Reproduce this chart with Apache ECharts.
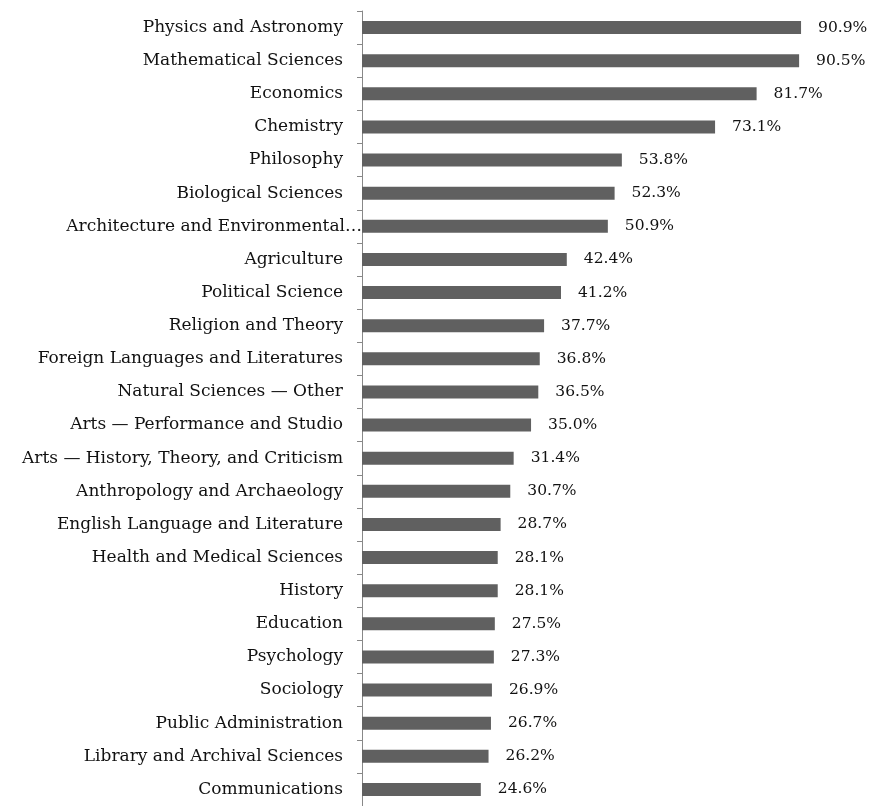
<!DOCTYPE html>
<html>
<head>
<meta charset="utf-8">
<script src="https://cdn.jsdelivr.net/npm/echarts@6/dist/echarts.min.js"></script>
<style>html,body{margin:0;padding:0;background:#fff;}#c{width:871px;height:806px;}</style>
</head>
<body>
<div id="c"></div>
<script>
const categories = [
  "Physics and Astronomy",
  "Mathematical Sciences",
  "Economics",
  "Chemistry",
  "Philosophy",
  "Biological Sciences",
  "Architecture and Environmental\u2026",
  "Agriculture",
  "Political Science",
  "Religion and Theory",
  "Foreign Languages and Literatures",
  "Natural Sciences \u2014 Other",
  "Arts \u2014 Performance and Studio",
  "Arts \u2014 History, Theory, and Criticism",
  "Anthropology and Archaeology",
  "English Language and Literature",
  "Health and Medical Sciences",
  "History",
  "Education",
  "Psychology",
  "Sociology",
  "Public Administration",
  "Library and Archival Sciences",
  "Communications"
];
const values = [90.9, 90.5, 81.7, 73.1, 53.8, 52.3, 50.9, 42.4, 41.2, 37.7, 36.8, 36.5, 35.0, 31.4, 30.7, 28.7, 28.1, 28.1, 27.5, 27.3, 26.9, 26.7, 26.2, 24.6];

const FONT = "DejaVu Serif";
const chart = echarts.init(document.getElementById('c'));
chart.setOption({
  animation: false,
  grid: { left: 362, right: 26, top: 11, height: 798, containLabel: false },
  xAxis: {
    type: 'value', min: 0, max: 100, show: false
  },
  yAxis: {
    type: 'category', data: categories, inverse: true,
    axisLine: { show: true, lineStyle: { color: '#888', width: 1 } },
    axisTick: { show: true, length: 5, lineStyle: { color: '#888' } },
    axisLabel: {
      margin: 0,
      formatter: function (v) {
        return v.indexOf('\u2026') >= 0 ? '{n|' + v + '}' : '{n|' + v + '}{s|}';
      },
      rich: {
        n: { fontFamily: FONT, fontSize: 17, color: '#111' },
        s: { width: 19 }
      }
    },
    splitLine: { show: false }
  },
  series: [{
    type: 'bar', data: values, barWidth: 13,
    itemStyle: { color: '#606060' },
    label: {
      show: true, position: 'right', distance: 17,
      fontFamily: FONT, fontSize: 15.5, color: '#111',
      formatter: function (p) { return p.value.toFixed(1) + '%'; }
    }
  }]
});
</script>
</body>
</html>
